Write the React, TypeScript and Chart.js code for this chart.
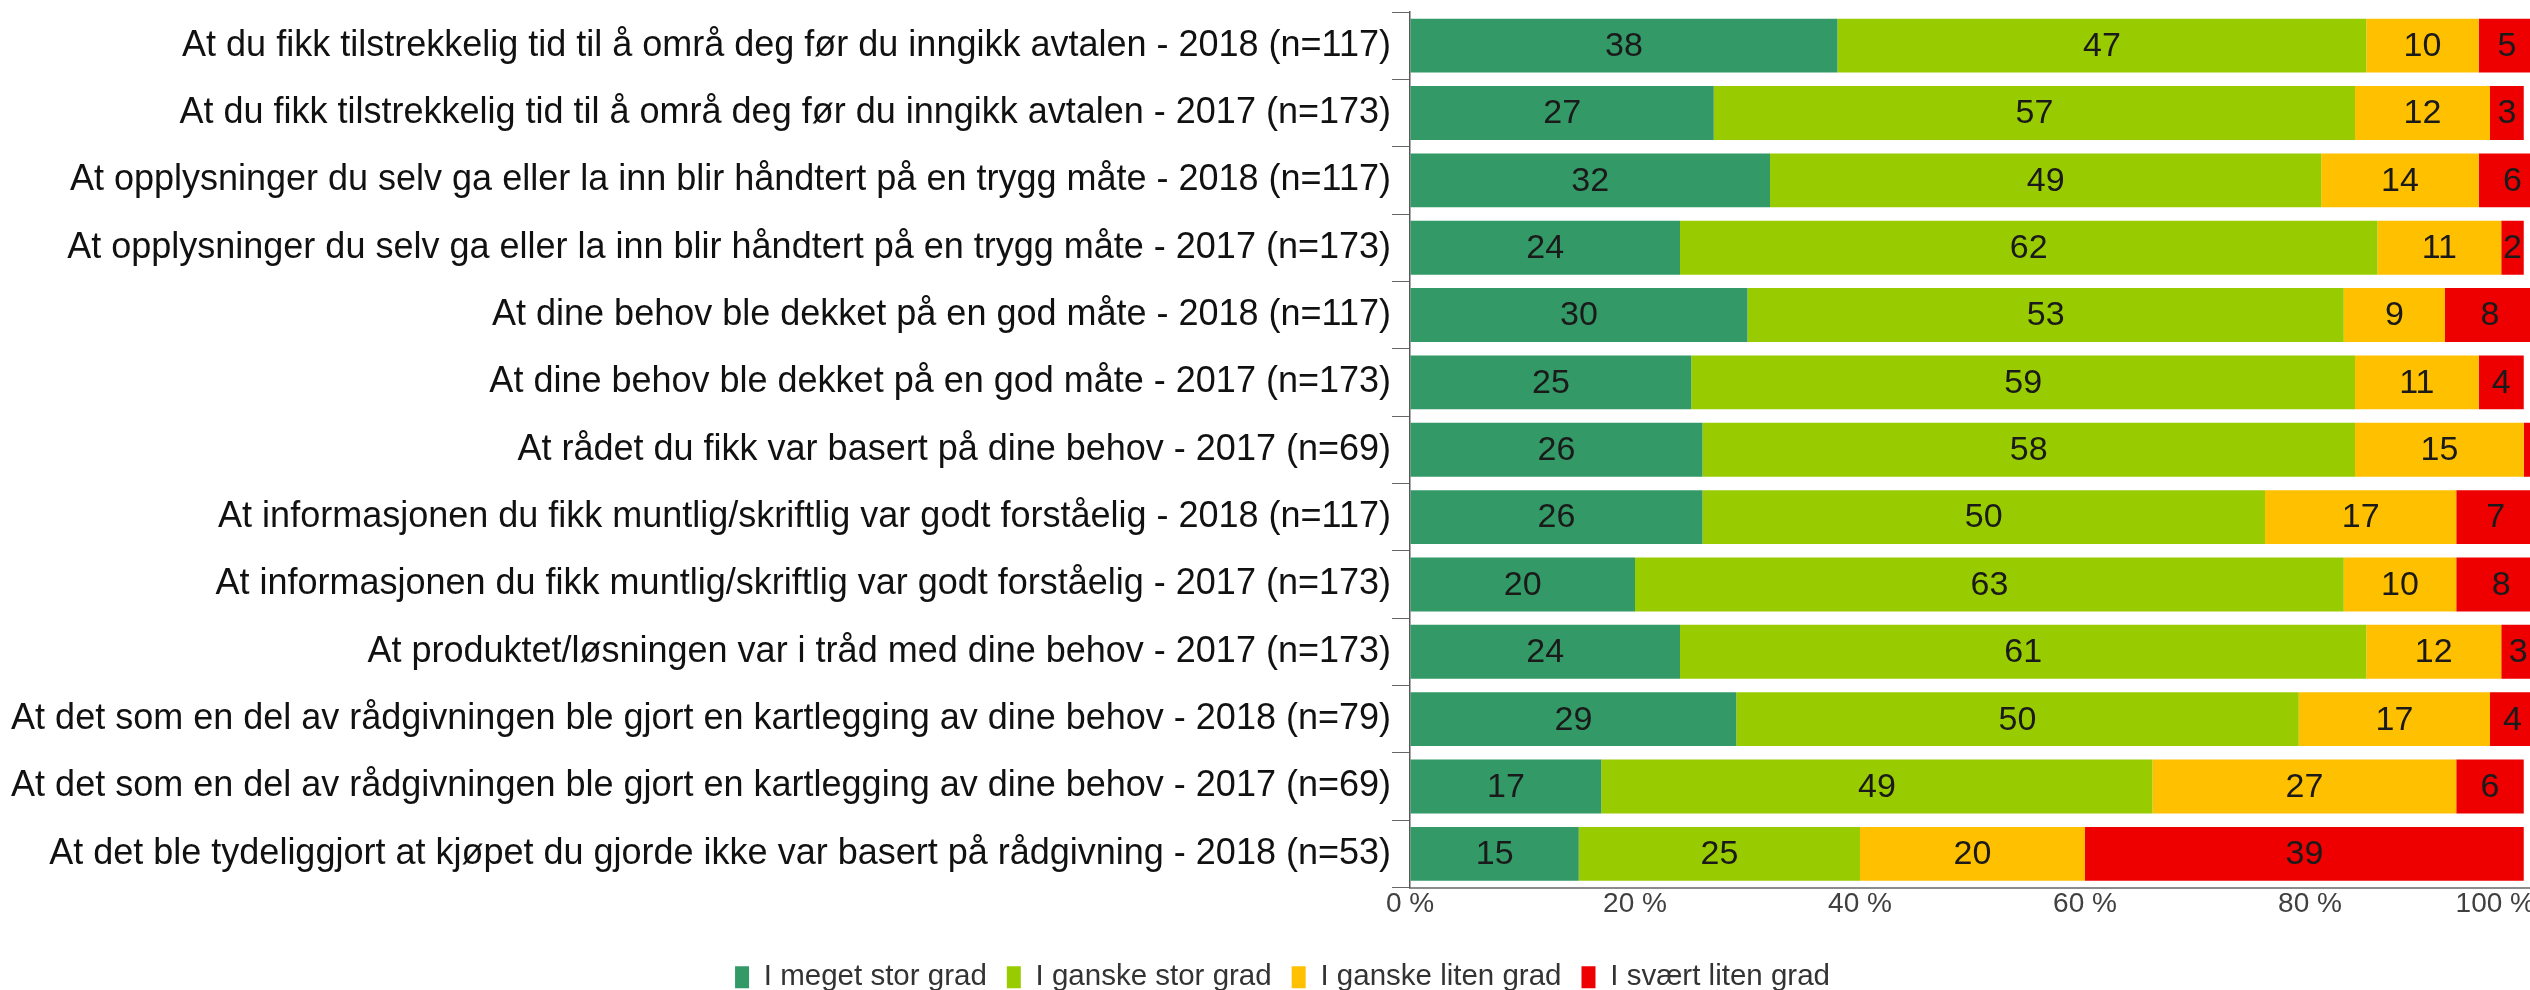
import React, { useEffect, useRef } from "react";
import { Chart, registerables } from "chart.js";

Chart.register(...registerables);

const categories: string[] = [
  "At du fikk tilstrekkelig tid til å områ deg før du inngikk avtalen - 2018 (n=117)",
  "At du fikk tilstrekkelig tid til å områ deg før du inngikk avtalen - 2017 (n=173)",
  "At opplysninger du selv ga eller la inn blir håndtert på en trygg måte - 2018 (n=117)",
  "At opplysninger du selv ga eller la inn blir håndtert på en trygg måte - 2017 (n=173)",
  "At dine behov ble dekket på en god måte - 2018 (n=117)",
  "At dine behov ble dekket på en god måte - 2017 (n=173)",
  "At rådet du fikk var basert på dine behov - 2017 (n=69)",
  "At informasjonen du fikk muntlig/skriftlig var godt forståelig - 2018 (n=117)",
  "At informasjonen du fikk muntlig/skriftlig var godt forståelig - 2017 (n=173)",
  "At produktet/løsningen var i tråd med dine behov - 2017 (n=173)",
  "At det som en del av rådgivningen ble gjort en kartlegging av dine behov - 2018 (n=79)",
  "At det som en del av rådgivningen ble gjort en kartlegging av dine behov - 2017 (n=69)",
  "At det ble tydeliggjort at kjøpet du gjorde ikke var basert på rådgivning - 2018 (n=53)",
];

const seriesNames: string[] = [
  "I meget stor grad",
  "I ganske stor grad",
  "I ganske liten grad",
  "I svært liten grad",
];

const meget: number[] = [38, 27, 32, 24, 30, 25, 26, 26, 20, 24, 29, 17, 15];
const ganskeStor: number[] = [47, 57, 49, 62, 53, 59, 58, 50, 63, 61, 50, 49, 25];
const ganskeLiten: number[] = [10, 12, 14, 11, 9, 11, 15, 17, 10, 12, 17, 27, 20];
const svaertLiten: number[] = [5, 3, 6, 2, 8, 4, 1, 7, 8, 3, 4, 6, 39];

const colors: string[] = ["#339966", "#99CC00", "#FFC000", "#EE0000"];

const xTicks: number[] = [0, 20, 40, 60, 80, 100];

const FONT = "'Liberation Sans', Arial, sans-serif";
const TICK_COLOR = "#404040";

const tickText = (v: number) => `${v} %`;

const valueLabels = {
  id: "valueLabels",
  afterDatasetsDraw(chart: any) {
    const ctx = chart.ctx;
    ctx.save();
    ctx.font = `34px ${FONT}`;
    ctx.fillStyle = "#1a1a1a";
    ctx.textAlign = "center";
    ctx.textBaseline = "middle";
    chart.data.datasets.forEach((ds: any, di: number) => {
      const meta = chart.getDatasetMeta(di);
      meta.data.forEach((el: any, i: number) => {
        const v = ds.data[i];
        if (!v) return;
        const text = String(v);
        const w = Math.abs(el.x - el.base);
        if (w < ctx.measureText(text).width) return;
        ctx.fillText(text, (el.x + el.base) / 2, el.y + 1);
      });
    });
    ctx.restore();
  },
};

// The last x tick label is kept inside the chart edge (right aligned), like the original.
const lastTickLabel = {
  id: "lastTickLabel",
  afterDraw(chart: any) {
    const scale = chart.scales.x;
    const items = scale.getLabelItems();
    if (!items.length) return;
    const last = items[items.length - 1];
    const ctx = chart.ctx;
    ctx.save();
    ctx.font = last.font.string;
    ctx.fillStyle = TICK_COLOR;
    ctx.textAlign = "right";
    ctx.textBaseline = last.options.textBaseline;
    const v = xTicks[xTicks.length - 1];
    ctx.fillText(
      tickText(v),
      scale.getPixelForValue(v),
      last.options.translation[1] + (last.textOffset || 0)
    );
    ctx.restore();
  },
};

// Nudge the legend block slightly right, as in the original layout.
const legendShift = {
  id: "legendShift",
  afterLayout(chart: any) {
    const lg = chart.legend;
    if (!lg) return;
    lg.left += 30;
  },
};

export default function App() {
  const ref = useRef<HTMLCanvasElement | null>(null);

  useEffect(() => {
    if (!ref.current) return;
    const seriesData = [meget, ganskeStor, ganskeLiten, svaertLiten];
    const chart = new Chart(ref.current, {
      type: "bar",
      data: {
        labels: categories,
        datasets: seriesData.map((d, i) => ({
          label: seriesNames[i],
          data: d,
          backgroundColor: colors[i],
          borderWidth: 0,
          categoryPercentage: 1,
          barPercentage: 0.8,
        })),
      },
      options: {
        indexAxis: "y",
        animation: false,
        responsive: true,
        maintainAspectRatio: false,
        layout: { padding: { top: 12, right: 5, bottom: -12, left: 0 } },
        plugins: {
          legend: {
            position: "bottom",
            labels: {
              boxWidth: 14,
              boxHeight: 22,
              padding: 20,
              color: "#333333",
              font: { family: FONT, size: 29.5 },
            },
          },
          tooltip: { enabled: false },
        },
        scales: {
          x: {
            stacked: true,
            min: 0,
            max: 100,
            afterBuildTicks: (scale: any) => {
              scale.ticks = xTicks.map((v) => ({ value: v }));
            },
            afterFit: (scale: any) => {
              scale.paddingLeft = 0;
              scale.paddingRight = 0;
              scale.height = 55;
            },
            grid: { display: true, drawOnChartArea: false, drawTicks: false },
            border: { display: true, color: "#8c8c8c", width: 2 },
            ticks: {
              padding: 0,
              color: (c: any) =>
                c.index === xTicks.length - 1 ? "rgba(0,0,0,0)" : TICK_COLOR,
              font: { family: FONT, size: 28 },
              callback: (v: any) => tickText(v),
              maxRotation: 0,
            },
          },
          y: {
            stacked: true,
            afterFit: (scale: any) => {
              scale.width = 1410;
              scale.paddingTop = 0;
              scale.paddingBottom = 0;
            },
            grid: {
              display: true,
              drawOnChartArea: false,
              drawTicks: true,
              tickLength: 18,
              color: "#666666",
              offset: true,
            },
            border: { display: true, color: "#595959", width: 1.5 },
            ticks: {
              padding: 1,
              color: "#111111",
              autoSkip: false,
              font: { family: FONT, size: 36 },
            },
          },
        },
      },
      plugins: [valueLabels, lastTickLabel, legendShift],
    });
    return () => chart.destroy();
  }, []);

  return (
    <div
      style={{
        position: "fixed",
        left: 0,
        top: 0,
        width: "2530px",
        height: "990px",
        overflow: "hidden",
        background: "#ffffff",
      }}
    >
      <div style={{ position: "relative", width: "2540px", height: "990px" }}>
        <canvas ref={ref} />
      </div>
    </div>
  );
}
